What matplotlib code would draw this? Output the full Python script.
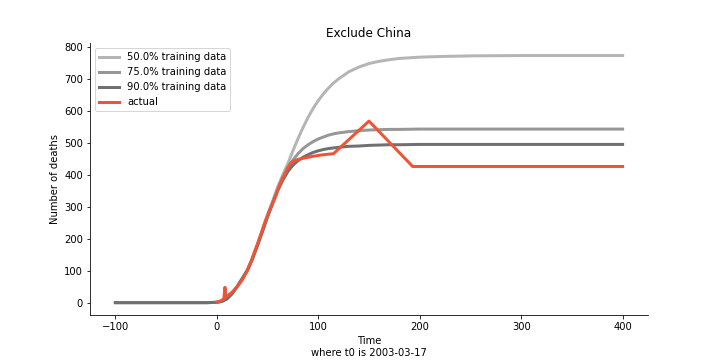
import matplotlib
matplotlib.use("Agg")
import matplotlib.pyplot as plt

# Model time grid (days since t0) and fitted curves
t_model = [-100, -50, -20, -10, 0, 5, 10, 15, 20, 25, 30, 35, 40, 45, 50, 55, 60, 65,
           70, 75, 80, 85, 90, 95, 100, 105, 110, 115, 120, 130, 140, 150, 160, 170,
           180, 200, 220, 250, 300, 350, 400]

deaths_50 = [0, 0, 0, 0, 1, 4, 12, 28, 50, 76, 103, 140, 184, 230, 276, 318, 362, 400,
             435, 475, 513, 548, 580, 608, 632, 653, 671, 687, 700, 722, 737, 748, 755, 760,
             764, 768, 770, 772, 773, 773, 773]

deaths_75 = [0, 0, 0, 0, 1, 4, 12, 28, 50, 75, 101, 137, 180, 225, 271, 313, 355, 392,
             422, 446, 466, 482, 494, 504, 512, 518, 524, 528, 531, 535, 538, 540, 541, 542,
             542, 543, 543, 543, 543, 543, 543]

deaths_90 = [0, 0, 0, 0, 1, 4, 12, 28, 50, 75, 100, 135, 178, 222, 268, 310, 350, 383,
             410, 430, 444, 455, 463, 470, 475, 479, 482, 484, 486, 489, 490, 492, 493, 494,
             494, 495, 495, 495, 495, 495, 495]

# Actual cumulative deaths
t_actual = [0, 2, 4, 6, 7, 8, 9, 10, 12, 14, 16, 18, 20, 22, 24, 26, 28, 30, 32, 34, 36,
            38, 40, 42, 44, 46, 48, 50, 52, 54, 56, 58, 60, 62, 65, 68, 70, 73, 76, 80,
            87, 95, 103, 115, 150, 193, 400]
deaths_actual = [2, 4, 6, 10, 14, 48, 18, 20, 25, 30, 36, 43, 50, 58, 66, 76, 88, 100, 115,
                 130, 148, 165, 182, 200, 218, 238, 256, 272, 288, 302, 318, 333, 352, 368,
                 390, 408, 422, 437, 443, 448, 453, 458, 462, 466, 568, 426, 426]

labels = ["50.0% training data", "75.0% training data", "90.0% training data", "actual"]
colors = ["#b5b5b3", "#979797", "#707070", "#f05436"]

fig = plt.figure(figsize=(10, 5), dpi=72)
ax = fig.add_axes([0.125, 0.125, 0.775, 0.755])

ax.plot(t_model, deaths_50, color=colors[0], lw=3, label=labels[0])
ax.plot(t_model, deaths_75, color=colors[1], lw=3, label=labels[1])
ax.plot(t_model, deaths_90, color=colors[2], lw=3, label=labels[2])
ax.plot(t_actual, deaths_actual, color=colors[3], lw=3, label=labels[3])

ax.set_title("Exclude China", fontsize=12)
ax.set_xlabel("Time\nwhere t0 is 2003-03-17")
ax.set_ylabel("Number of deaths")
ax.spines["top"].set_visible(False)
ax.spines["right"].set_visible(False)
ax.legend(loc="upper left")

fig.savefig("out.png", dpi=72)
